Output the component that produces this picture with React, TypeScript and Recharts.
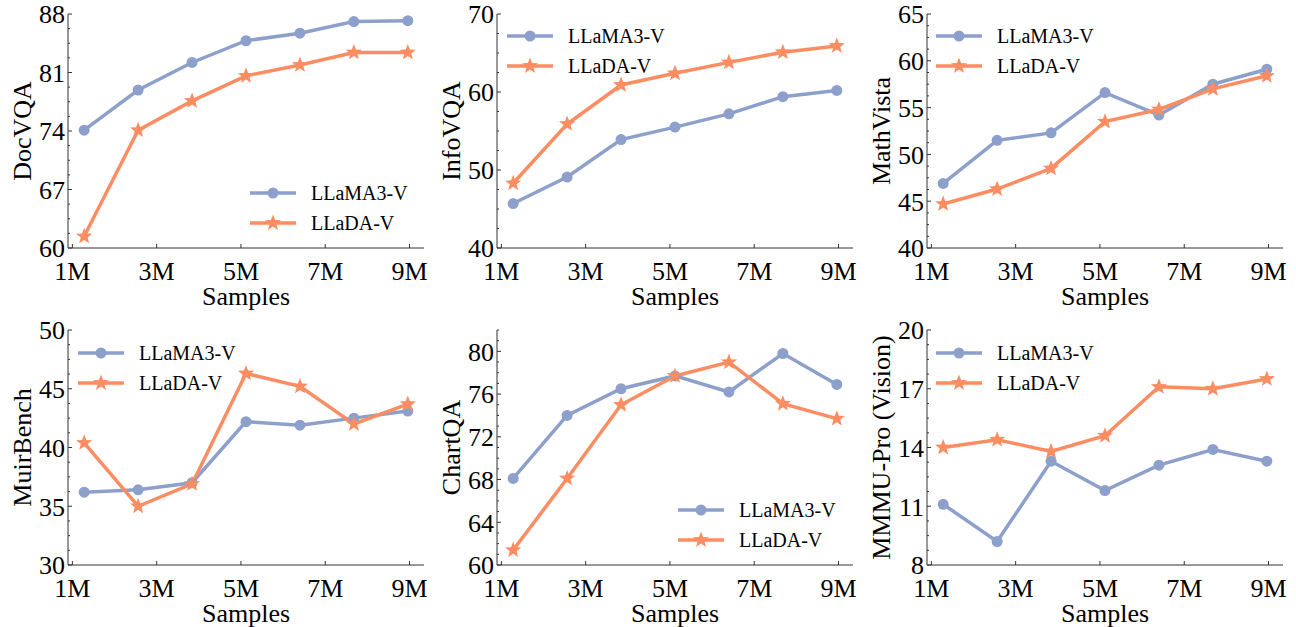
import React from 'react';
import { LineChart, Line, XAxis, YAxis, Legend } from 'recharts';

// ---------- data ----------
const samples = [1.28, 2.56, 3.84, 5.12, 6.4, 7.68, 8.96];
const xTicks = [1, 3, 5, 7, 9];

const docvqaLlama = [74.1, 78.9, 82.2, 84.8, 85.7, 87.1, 87.2];
const docvqaLlada = [61.4, 74.1, 77.6, 80.6, 81.9, 83.4, 83.4];
const infovqaLlama = [45.7, 49.1, 53.9, 55.5, 57.2, 59.4, 60.2];
const infovqaLlada = [48.3, 55.9, 60.9, 62.4, 63.8, 65.1, 65.9];
const mathvistaLlama = [46.9, 51.5, 52.3, 56.6, 54.2, 57.5, 59.1];
const mathvistaLlada = [44.7, 46.3, 48.5, 53.5, 54.8, 57.0, 58.4];
const muirLlama = [36.2, 36.4, 37.0, 42.2, 41.9, 42.5, 43.1];
const muirLlada = [40.4, 35.0, 36.9, 46.3, 45.2, 42.0, 43.7];
const chartqaLlama = [68.1, 74.0, 76.5, 77.7, 76.2, 79.8, 76.9];
const chartqaLlada = [61.4, 68.1, 75.0, 77.7, 79.0, 75.1, 73.7];
const mmmuLlama = [11.1, 9.2, 13.3, 11.8, 13.1, 13.9, 13.3];
const mmmuLlada = [14.0, 14.4, 13.8, 14.6, 17.1, 17.0, 17.5];

const docvqaTicks = [60, 67, 74, 81, 88];
const infovqaTicks = [40, 50, 60, 70];
const mathvistaTicks = [40, 45, 50, 55, 60, 65];
const muirTicks = [30, 35, 40, 45, 50];
const chartqaTicks = [60, 64, 68, 72, 76, 80];
const mmmuTicks = [8, 11, 14, 17, 20];

const seriesNames = ['LLaMA3-V', 'LLaDA-V'];

// ---------- style ----------
const BLUE = '#8DA0CB';
const ORANGE = '#FC8D62';
const FRAME = '#333333';
const FONT = '"Liberation Serif", "Times New Roman", serif';
const FS = 26;
const X_TICK_MARGIN = 14;
const Y_TICK_MARGIN = 3;
const MAJOR = 4;
const MINOR = 2;

const starPoints = (cx: number, cy: number, R: number, r: number) => {
  const pts: string[] = [];
  for (let i = 0; i < 10; i++) {
    const a = -Math.PI / 2 + (i * Math.PI) / 5;
    const rad = i % 2 === 0 ? R : r;
    pts.push(`${cx + rad * Math.cos(a)},${cy + rad * Math.sin(a)}`);
  }
  return pts.join(' ');
};

const CircleDot = (p: any) => (
  <circle key={`c-${p.index}`} cx={p.cx} cy={p.cy} r={5.5} fill={BLUE} />
);
const StarDot = (p: any) => (
  <polygon key={`s-${p.index}`} points={starPoints(p.cx, p.cy, 8.5, 3.6)} fill={ORANGE} />
);

const LegendMarker = ({ kind }: { kind: 'circle' | 'star' }) => (
  <svg width={46} height={30} style={{ display: 'block' }}>
    <line x1={0} x2={46} y1={15} y2={15} stroke={kind === 'circle' ? BLUE : ORANGE} strokeWidth={3.5} />
    {kind === 'circle' ? (
      <circle cx={23} cy={15} r={5.5} fill={BLUE} />
    ) : (
      <polygon points={starPoints(23, 15, 8.5, 3.6)} fill={ORANGE} />
    )}
  </svg>
);

const renderLegend = () => (
  <div style={{ fontFamily: FONT, fontSize: 20, color: '#000' }}>
    {seriesNames.map((n, i) => (
      <div key={n} style={{ display: 'flex', alignItems: 'center', height: 30, whiteSpace: 'nowrap' }}>
        <LegendMarker kind={i === 0 ? 'circle' : 'star'} />
        <span style={{ marginLeft: 15 }}>{n}</span>
      </div>
    ))}
  </div>
);

type PanelProps = {
  label: string;
  ticks: number[];
  domain: [number, number];
  llama: number[];
  llada: number[];
  left: number;
  top: number;
  marginTop: number;
  plotH: number;
  legendLeft: number;
  legendTop: number;
};

const Panel = (props: PanelProps) => {
  const { label, ticks, domain, llama, llada, left, top, marginTop, plotH, legendLeft, legendTop } = props;
  const data = samples.map((x, i) => ({ x, llama: llama[i], llada: llada[i] }));
  const step = (ticks[1] - ticks[0]) / 4;
  const allY: number[] = [];
  for (let v = domain[0]; v <= domain[1] + 1e-9; v += step) allY.push(Math.round(v * 1000) / 1000);
  const isMajor = (v: number) => ticks.some((t) => Math.abs(t - v) < 1e-6);

  const plotW = 356;
  const yW = 68;
  const xH = 62;
  const width = yW + plotW + 8;
  const height = marginTop + plotH + xH;

  const XTickBottom = (p: any) => {
    const axisY = p.y - X_TICK_MARGIN;
    return (
      <g>
        <line x1={p.x} x2={p.x} y1={axisY} y2={axisY - MAJOR} stroke={FRAME} />
        <text x={p.x} y={p.y} dy="0.71em" textAnchor="middle" fontFamily={FONT} fontSize={FS} fill="#000">
          {`${p.payload.value}M`}
        </text>
      </g>
    );
  };
  const XTickTop = (p: any) => (
    <line x1={p.x} x2={p.x} y1={p.y} y2={p.y + MAJOR} stroke={FRAME} />
  );
  const YTickLeft = (p: any) => {
    const axisX = p.x + Y_TICK_MARGIN;
    const major = isMajor(p.payload.value);
    return (
      <g>
        <line x1={axisX} x2={axisX + (major ? MAJOR : MINOR)} y1={p.y} y2={p.y} stroke={FRAME} />
        {major && (
          <text x={p.x} y={p.y} dy="0.36em" textAnchor="end" fontFamily={FONT} fontSize={FS} fill="#000">
            {p.payload.value}
          </text>
        )}
      </g>
    );
  };
  const YTickRight = (p: any) => {
    const major = isMajor(p.payload.value);
    return <line x1={p.x} x2={p.x - (major ? MAJOR : MINOR)} y1={p.y} y2={p.y} stroke={FRAME} />;
  };

  return (
    <div style={{ position: 'absolute', left, top }}>
      <LineChart width={width} height={height} data={data} margin={{ top: marginTop, right: 8, bottom: 0, left: 0 }}>
        <XAxis
          xAxisId="b"
          type="number"
          dataKey="x"
          domain={[0.896, 9.344]}
          allowDataOverflow
          ticks={xTicks}
          interval={0}
          height={xH}
          tickSize={0}
          tickMargin={X_TICK_MARGIN}
          tick={XTickBottom}
          axisLine={{ stroke: FRAME, strokeWidth: 1 }}
          label={{ value: 'Samples', position: 'insideBottom', offset: 5, style: { fontFamily: FONT, fontSize: FS, fill: '#000' } }}
        />
        <XAxis
          xAxisId="t"
          orientation="top"
          type="number"
          dataKey="x"
          domain={[0.896, 9.344]}
          allowDataOverflow
          ticks={xTicks}
          interval={0}
          height={0}
          tickSize={0}
          tickMargin={0}
          tick={XTickTop}
          axisLine={{ stroke: FRAME, strokeWidth: 1 }}
        />
        <YAxis
          yAxisId="l"
          type="number"
          domain={domain}
          allowDataOverflow
          ticks={allY}
          interval={0}
          width={yW}
          tickSize={0}
          tickMargin={Y_TICK_MARGIN}
          tick={YTickLeft}
          axisLine={{ stroke: FRAME, strokeWidth: 1 }}
          label={{
            value: label,
            angle: -90,
            position: 'insideLeft',
            offset: 22,
            style: { textAnchor: 'middle', fontFamily: FONT, fontSize: FS, fill: '#000' },
          }}
        />
        <YAxis
          yAxisId="r"
          orientation="right"
          type="number"
          domain={domain}
          allowDataOverflow
          ticks={allY}
          interval={0}
          width={0}
          tickSize={0}
          tickMargin={0}
          tick={YTickRight}
          axisLine={{ stroke: FRAME, strokeWidth: 1 }}
        />
        <Legend
          layout="vertical"
          align="center"
          verticalAlign="middle"
          content={renderLegend}
          wrapperStyle={{ left: legendLeft, top: legendTop, width: 'auto' }}
        />
        <Line
          xAxisId="b"
          yAxisId="l"
          type="linear"
          dataKey="llama"
          name={seriesNames[0]}
          stroke={BLUE}
          strokeWidth={3.5}
          dot={CircleDot}
          activeDot={false}
          isAnimationActive={false}
        />
        <Line
          xAxisId="b"
          yAxisId="l"
          type="linear"
          dataKey="llada"
          name={seriesNames[1]}
          stroke={ORANGE}
          strokeWidth={3.5}
          dot={StarDot}
          activeDot={false}
          isAnimationActive={false}
        />
      </LineChart>
    </div>
  );
};

export default function App() {
  return (
    <div style={{ position: 'absolute', left: 0, top: 0, width: 1296, height: 627, background: '#fff', fontFamily: FONT }}>
      <Panel label="DocVQA" ticks={docvqaTicks} domain={[60, 88]} llama={docvqaLlama} llada={docvqaLlada}
        left={0} top={0} marginTop={14} plotH={234} legendLeft={250} legendTop={178} />
      <Panel label="InfoVQA" ticks={infovqaTicks} domain={[40, 70]} llama={infovqaLlama} llada={infovqaLlada}
        left={429} top={0} marginTop={14} plotH={234} legendLeft={78} legendTop={21} />
      <Panel label="MathVista" ticks={mathvistaTicks} domain={[40, 65]} llama={mathvistaLlama} llada={mathvistaLlada}
        left={859} top={0} marginTop={14} plotH={234} legendLeft={77} legendTop={21} />
      <Panel label="MuirBench" ticks={muirTicks} domain={[30, 50]} llama={muirLlama} llada={muirLlada}
        left={0} top={310} marginTop={20} plotH={235} legendLeft={78} legendTop={28} />
      <Panel label="ChartQA" ticks={chartqaTicks} domain={[60, 82]} llama={chartqaLlama} llada={chartqaLlada}
        left={429} top={310} marginTop={20} plotH={235} legendLeft={249} legendTop={185} />
      <Panel label="MMMU-Pro (Vision)" ticks={mmmuTicks} domain={[8, 20]} llama={mmmuLlama} llada={mmmuLlada}
        left={859} top={310} marginTop={20} plotH={235} legendLeft={77} legendTop={28} />
    </div>
  );
}
